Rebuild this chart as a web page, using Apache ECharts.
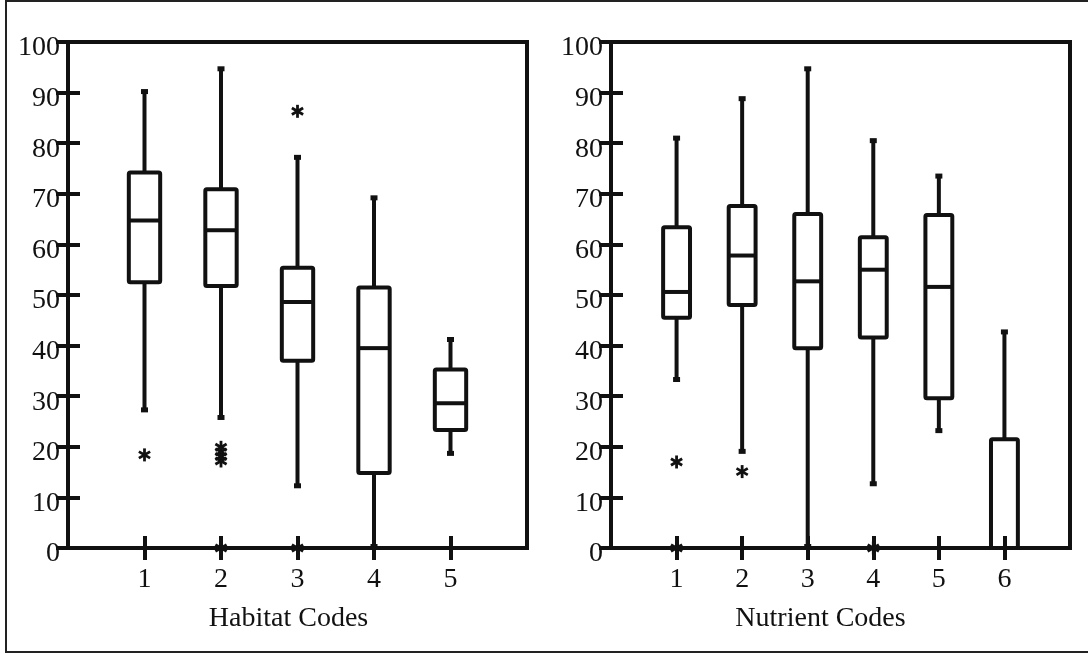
<!DOCTYPE html>
<html>
<head>
<meta charset="utf-8">
<script src="https://cdn.jsdelivr.net/npm/echarts@6/dist/echarts.min.js"></script>
<style>
  html, body { margin: 0; padding: 0; background: #fff; }
  #chart { width: 1088px; height: 654px; }
</style>
</head>
<body>
<div id="chart"></div>
<script>
// Tick labels
const habitatCodes = ['1', '2', '3', '4', '5'];
const nutrientCodes = ['1', '2', '3', '4', '5', '6'];
const yTicks = [0, 10, 20, 30, 40, 50, 60, 70, 80, 90, 100];

// Box summaries per code: [lower whisker, Q1, median, Q3, upper whisker]
const habitatBoxes = [
  [27, 52.5, 64.7, 74.2, 90.5],
  [25.5, 51.8, 62.8, 70.9, 95],
  [12, 37, 48.6, 55.4, 77.5],
  [0, 14.8, 39.5, 51.5, 69.5],
  [18.4, 23.3, 28.6, 35.3, 41.5]
];
const nutrientBoxes = [
  [33, 45.5, 50.6, 63.4, 81.3],
  [18.8, 48, 57.8, 67.6, 89.1],
  [0, 39.5, 52.7, 66, 95],
  [12.4, 41.6, 55, 61.4, 80.8],
  [22.9, 29.6, 51.6, 65.8, 73.8],
  [0, 0, 0, 21.5, 43]
];

// Outliers: [code, value]
const habitatOutliers = [
  [1, 18.4], [2, 19.9], [2, 19], [2, 18.1], [2, 17.2], [2, 0],
  [3, 86.3], [3, 0]
];
const nutrientOutliers = [
  [1, 17], [1, 0], [2, 15.1], [4, 0]
];

const INK = '#111';
const FONT = 'Liberation Serif';

function renderBox(params, api) {
  const x = api.value(0);
  const lo = api.coord([x, api.value(1)]);
  const q1 = api.coord([x, api.value(2)]);
  const md = api.coord([x, api.value(3)]);
  const q3 = api.coord([x, api.value(4)]);
  const hi = api.coord([x, api.value(5)]);
  const w = api.size([1, 0])[0] * 0.41;
  const cx = lo[0];
  const stroke = { stroke: INK, lineWidth: 4, fill: null, lineJoin: 'round' };
  const kids = [];
  if (hi[1] < q3[1] - 0.5) {
    kids.push({ type: 'line', shape: { x1: cx, y1: q3[1], x2: cx, y2: hi[1] }, style: stroke });
    kids.push({ type: 'rect', shape: { x: cx - 3.5, y: hi[1] - 1, width: 7, height: 5 }, style: { fill: INK } });
  }
  if (lo[1] > q1[1] + 0.5) {
    kids.push({ type: 'line', shape: { x1: cx, y1: q1[1], x2: cx, y2: lo[1] }, style: stroke });
    kids.push({ type: 'rect', shape: { x: cx - 3.5, y: lo[1] - 4, width: 7, height: 5 }, style: { fill: INK } });
  }
  kids.push({ type: 'rect', shape: { x: cx - w / 2, y: q3[1], width: w, height: q1[1] - q3[1], r: 1.5 }, style: stroke });
  kids.push({ type: 'line', shape: { x1: cx - w / 2, y1: md[1], x2: cx + w / 2, y2: md[1] }, style: stroke });
  return { type: 'group', children: kids };
}

function renderStar(params, api) {
  const p = api.coord([api.value(0), api.value(1)]);
  const r = 6.5;
  const kids = [90, 30, 150].map(function (a) {
    const t = a * Math.PI / 180;
    const dx = r * Math.cos(t), dy = r * Math.sin(t);
    return {
      type: 'line',
      shape: { x1: p[0] - dx, y1: p[1] - dy, x2: p[0] + dx, y2: p[1] + dy },
      style: { stroke: INK, lineWidth: 2.8 }
    };
  });
  return { type: 'group', children: kids };
}

function panelAxes(gridIndex, codes, title, titleShift) {
  const n = codes.length;
  const positions = codes.map(function (c, i) { return i + 1; });
  const tickStyle = { color: INK, width: 4 };
  const xBottom = {
    type: 'value', gridIndex: gridIndex, position: 'bottom',
    min: 0, max: n + 1, interval: 1,
    axisLine: { show: false }, splitLine: { show: false },
    axisTick: { show: true, inside: true, length: 12, lineStyle: tickStyle, customValues: positions },
    axisLabel: {
      color: INK, fontFamily: FONT, fontSize: 28, margin: 18,
      customValues: positions,
      formatter: function (v) { return codes[v - 1]; }
    },
    name: title, nameLocation: 'middle', nameGap: 57,
    nameTextStyle: { color: INK, fontFamily: FONT, fontSize: 28, padding: [0, titleShift * 2, 0, 0] }
  };
  const xTop = {
    type: 'value', gridIndex: gridIndex, position: 'top',
    min: 0, max: n + 1, interval: 1,
    axisLine: { show: false }, splitLine: { show: false },
    axisTick: { show: true, inside: true, length: 12, lineStyle: tickStyle, customValues: positions },
    axisLabel: { show: false }
  };
  const yLeft = {
    type: 'value', gridIndex: gridIndex, position: 'left',
    min: yTicks[0], max: yTicks[yTicks.length - 1], interval: yTicks[1] - yTicks[0],
    axisLine: { show: false }, splitLine: { show: false },
    axisTick: { show: true, inside: true, length: 12, lineStyle: tickStyle },
    axisLabel: {
      color: INK, fontFamily: FONT, fontSize: 28, margin: 8,
      verticalAlign: 'top', lineHeight: 12
    }
  };
  const yRight = {
    type: 'value', gridIndex: gridIndex, position: 'right',
    min: yTicks[0], max: yTicks[yTicks.length - 1], interval: yTicks[1] - yTicks[0],
    axisLine: { show: false }, splitLine: { show: false },
    axisTick: { show: true, inside: true, length: 12, lineStyle: tickStyle },
    axisLabel: { show: false }
  };
  return { x: [xBottom, xTop], y: [yLeft, yRight] };
}

const left = panelAxes(0, habitatCodes, 'Habitat Codes', 9);
const right = panelAxes(1, nutrientCodes, 'Nutrient Codes', 20);

const gridStyle = { show: true, borderColor: INK, borderWidth: 4, backgroundColor: 'transparent' };

const option = {
  backgroundColor: '#fff',
  animation: false,
  textStyle: { fontFamily: FONT },
  graphic: [{
    type: 'rect', silent: true,
    shape: { x: 6, y: 1, width: 1100, height: 651 },
    style: { fill: null, stroke: '#222', lineWidth: 2 }
  }],
  grid: [
    Object.assign({ left: 68, top: 42, width: 459, height: 506 }, gridStyle),
    Object.assign({ left: 611, top: 42, width: 459, height: 506 }, gridStyle)
  ],
  xAxis: left.x.concat(right.x),
  yAxis: left.y.concat(right.y),
  series: [
    {
      type: 'custom', xAxisIndex: 0, yAxisIndex: 0, clip: false,
      renderItem: renderBox,
      encode: { x: 0, y: [1, 2, 3, 4, 5] },
      data: habitatBoxes.map(function (b, i) { return [i + 1].concat(b); })
    },
    {
      type: 'custom', xAxisIndex: 0, yAxisIndex: 0, clip: false,
      renderItem: renderStar,
      encode: { x: 0, y: 1 },
      data: habitatOutliers
    },
    {
      type: 'custom', xAxisIndex: 2, yAxisIndex: 2, clip: false,
      renderItem: renderBox,
      encode: { x: 0, y: [1, 2, 3, 4, 5] },
      data: nutrientBoxes.map(function (b, i) { return [i + 1].concat(b); })
    },
    {
      type: 'custom', xAxisIndex: 2, yAxisIndex: 2, clip: false,
      renderItem: renderStar,
      encode: { x: 0, y: 1 },
      data: nutrientOutliers
    }
  ]
};

const chart = echarts.init(document.getElementById('chart'), null, { renderer: 'canvas' });
chart.setOption(option);
</script>
</body>
</html>
